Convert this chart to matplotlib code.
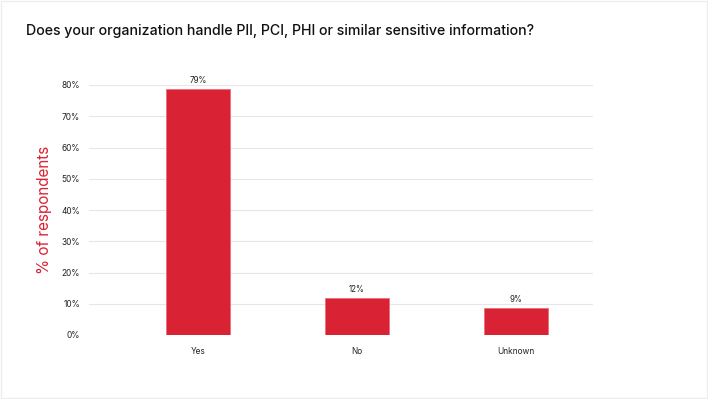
import numpy as np
import matplotlib.pyplot as plt

# survey answers, % of respondents
categories = ["Yes", "No", "Unknown"]
values = [78.7, 11.9, 8.6]
value_labels = ["79%", "12%", "9%"]
y_ticks = [0, 10, 20, 30, 40, 50, 60, 70, 80]
y_tick_labels = [f"{t}%" for t in y_ticks]

plt.rcParams["font.family"] = ["Inter", "DejaVu Sans"]

fig = plt.figure(figsize=(7.08, 3.99), dpi=100)
ax = fig.add_axes([89 / 708, 1 - 335 / 399, (593 - 89) / 708, 250 / 399])

x = np.arange(len(categories))
ax.bar(x, values, width=0.4, color="#d92233", edgecolor="#e8707a", linewidth=0.6, zorder=3)

for xi, v, lab in zip(x, values, value_labels):
    ax.text(xi, v + 1.2, lab, ha="center", va="bottom", fontsize=5.8, color="#222222")

ax.set_xlim(-0.686, 2.484)
ax.set_ylim(0, 80)
ax.set_yticks(y_ticks)
ax.set_yticklabels(y_tick_labels)
ax.set_xticks(x)
ax.set_xticklabels(categories)
ax.tick_params(axis="both", length=0, labelsize=6.0, colors="#222222")
ax.tick_params(axis="y", pad=6.5)
ax.tick_params(axis="x", pad=9)
ax.grid(axis="y", color="#e6e6e6", linewidth=0.8, zorder=0)
for s in ax.spines.values():
    s.set_visible(False)

ax.set_ylabel("% of respondents", color="#d92233", fontsize=11, labelpad=7)

fig.text(26 / 708, 1 - 31 / 399, "Does your organization handle PII, PCI, PHI or similar sensitive information?",
         fontsize=10.2, fontweight="medium", color="#111111", va="center", ha="left")

# faint frame around the card
frame = plt.Rectangle((0.001, 0.003), 0.998, 0.994, transform=fig.transFigure,
                      fill=False, edgecolor="#eeeeee", linewidth=1.0)
fig.patches.append(frame)

fig.savefig("out.png", dpi=100)
